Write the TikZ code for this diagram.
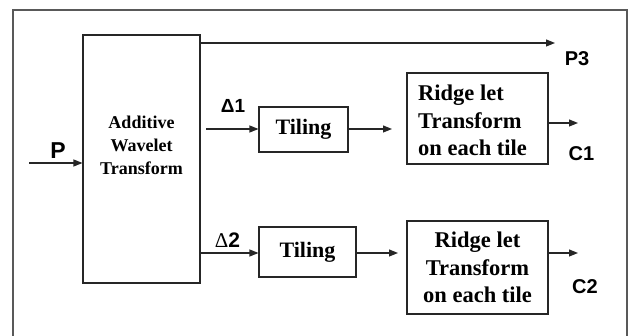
\documentclass[tikz,border=0pt]{standalone}
\usepackage{fontspec}
\setmainfont{Liberation Serif}
\newfontfamily\lblfont{Liberation Sans}
\usetikzlibrary{arrows.meta}
\begin{document}
\begin{tikzpicture}[x=1pt,y=-1pt,
  blk/.style={draw=black!85,line width=1.1pt,inner sep=0pt,minimum width=#1},
  conn/.style={draw=black!85,line width=1.1pt,-{Triangle[length=9pt,width=7pt]}},
  lbl/.style={font=\lblfont\bfseries\fontsize{20}{22}\selectfont,inner sep=0pt},
  boxtxt/.style={font=\bfseries\fontsize{22.5}{27.5}\selectfont,inner sep=0pt}]
\useasboundingbox (0,0) rectangle (632,336);
\clip (0,0) rectangle (632,336);
\fill[white] (0,0) rectangle (632,336);
% outer frame
\draw[draw=black!65,line width=1.6pt] (13,360) -- (13,10) -- (627,10) -- (627,360);
% blocks
\node[blk=117pt,minimum height=248pt] (wav) at (141.5,159) {};
\node[font=\bfseries\fontsize{18}{23}\selectfont,align=center,inner sep=0pt] (wavtxt) at (141.5,145) {Additive\\Wavelet\\Transform};
\node[blk=89pt,minimum height=45pt,font=\bfseries\fontsize{22}{26}\selectfont,inner sep=0pt] (til1) at (303.5,129.5) {Tiling};
\node[blk=97pt,minimum height=50pt,font=\bfseries\fontsize{22}{26}\selectfont,inner sep=0pt] (til2) at (307.5,252) {Tiling};
\node[blk=141pt,minimum height=91pt] (rid1) at (477.5,118.5) {};
\node[boxtxt,align=left,anchor=west] (rid1txt) at (418,120.5) {Ridge let\\Transform\\on each tile};
\node[blk=141pt,minimum height=93pt,boxtxt,align=center] (rid2) at (477.5,267.5) {Ridge let\\Transform\\on each tile};
% coordinates for free ends
\coordinate (pin) at (29,163);
\coordinate (p3end) at (555,43);
\coordinate (d1start) at (206,129);
\coordinate (t1end) at (392,129);
\coordinate (t2end) at (398,253);
\coordinate (c1end) at (578,123);
\coordinate (c2end) at (578,253);
% connectors
\draw[conn] (pin) -- (pin -| wav.west);
\draw[conn] (wav.east |- p3end) -- (p3end);
\draw[conn] (d1start) -- (til1.west |- d1start);
\draw[conn] (wav.east |- t2end) -- (til2.west |- t2end);
\draw[conn] (til1.east |- t1end) -- (t1end);
\draw[conn] (til2.east |- t2end) -- (t2end);
\draw[conn] (rid1.east |- c1end) -- (c1end);
\draw[conn] (rid2.east |- c2end) -- (c2end);
% labels
\node[lbl,font=\lblfont\bfseries\fontsize{23}{24}\selectfont] (lp) at (58,151) {P};
\node[lbl] (lp3) at (577,59) {P3};
\node[lbl] (lc1) at (581.5,154) {C1};
\node[lbl] (lc2) at (585,287) {C2};
\node[lbl,font=\lblfont\bfseries\fontsize{19}{21}\selectfont] (ld1) at (233,105.5) {Δ1};
\node[lbl,font=\lblfont\bfseries\fontsize{21}{23}\selectfont] (ld2) at (227.5,240) {{\mdseries\rmfamily Δ}2};
\end{tikzpicture}
\end{document}
